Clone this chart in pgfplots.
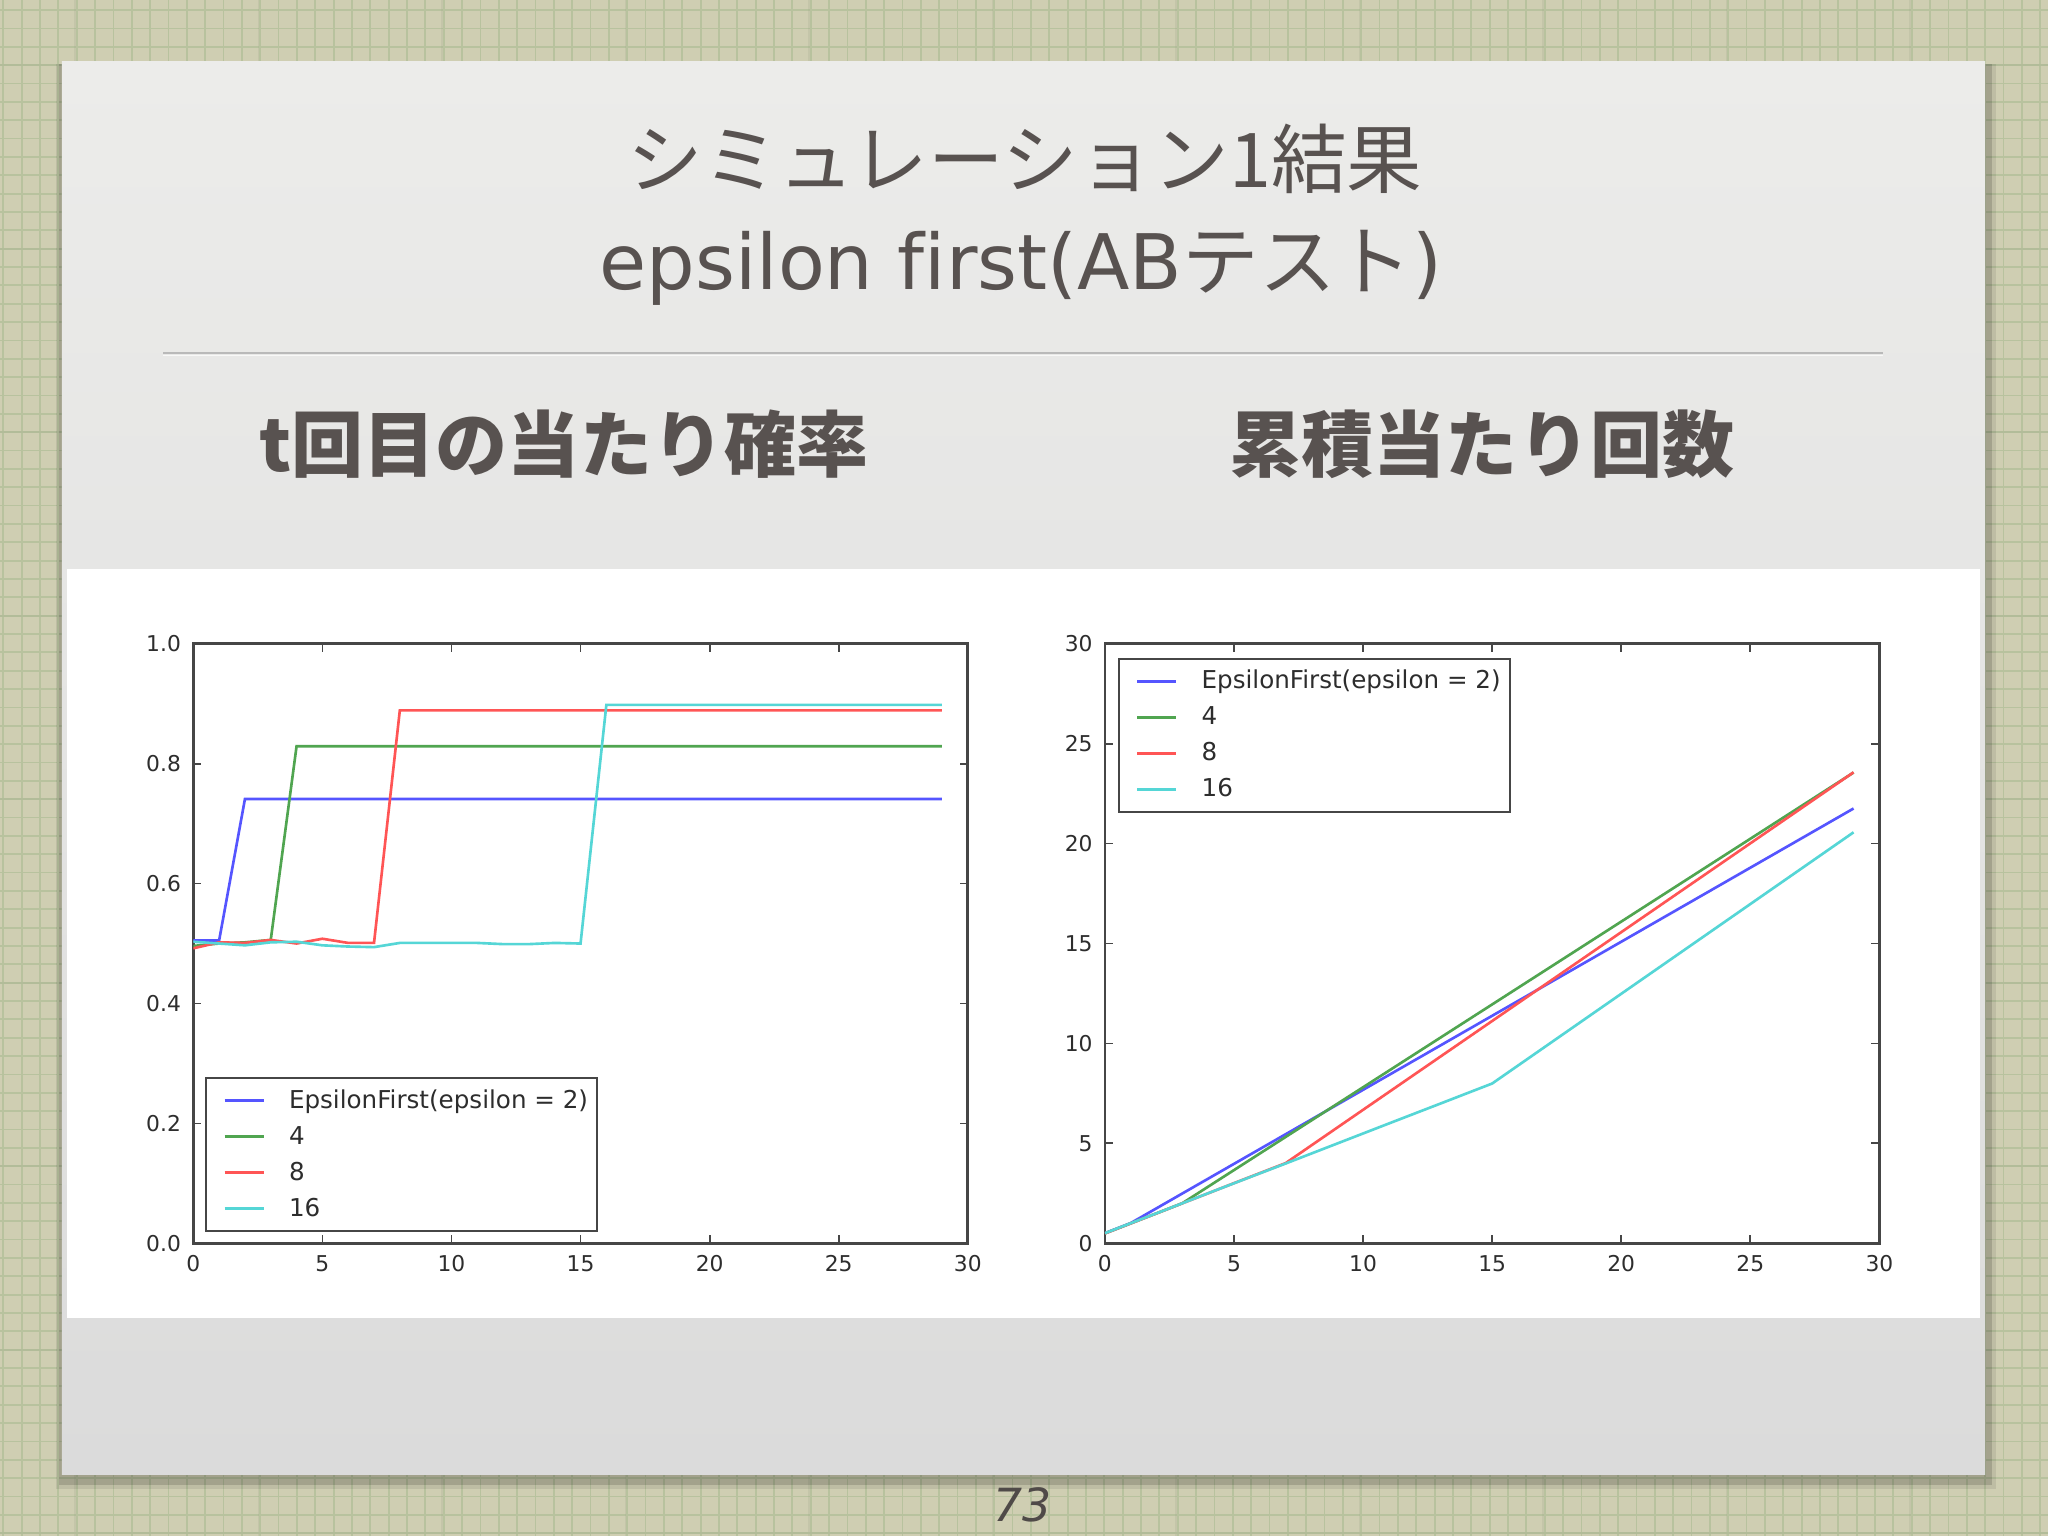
\documentclass[border=0pt]{standalone}
\usepackage{fontspec}
\setmainfont{DejaVu Sans}
\newfontfamily\cjk{Noto Sans CJK JP}
\usepackage{pgfplots}
\pgfplotsset{compat=1.18}

\definecolor{paper}{RGB}{207,206,178}
\definecolor{paperline}{RGB}{184,194,158}
\definecolor{titlegray}{RGB}{88,82,80}
\definecolor{axgray}{RGB}{70,70,70}
\definecolor{txtgray}{RGB}{45,45,45}
\definecolor{mplblue}{RGB}{85,85,255}
\definecolor{mplgreen}{RGB}{80,165,80}
\definecolor{mplred}{RGB}{255,85,85}
\definecolor{mplcyan}{RGB}{85,214,214}

\pgfplotsset{
  mplax/.style={
    width=7.745cm, height=5.995cm, scale only axis,
    xmin=0, xmax=30, xtick={0,5,...,30},
    axis line style={draw=axgray, line width=0.75pt},
    tick style={draw=axgray, line width=0.5pt},
    major tick length=0.08cm,
    tick label style={font=\fontsize{6.2}{7}\selectfont, text=txtgray},
    /pgf/number format/assume math mode=true,
    every axis plot/.append style={line width=0.75pt},
    legend image code/.code={\path (0cm,0cm); \draw[##1] (0.08cm,0cm) -- (0.47cm,0cm);},
    legend style={draw=axgray, line width=0.6pt, fill=white,
      font=\fontsize{7}{8}\selectfont, text=txtgray,
      inner xsep=0.09cm, inner ysep=0.088cm, row sep=0.086cm,
      nodes={inner sep=0pt, text height=6pt, text depth=1.8pt},
      /tikz/every odd column/.append style={column sep=0.24cm},
      cells={anchor=west}},
  }
}

\begin{document}
\begin{tikzpicture}
\useasboundingbox (0,0) rectangle (20.48,15.36);
% grid paper
\fill[paper] (0,0) rectangle (20.48,15.36);
\draw[paperline, line width=0.018cm, shift={(0.033,0.028)}] (-0.2,-0.2) grid[step=0.1835] (20.6,15.5);
\draw[paperline!85!black, line width=0.018cm, opacity=0.2, shift={(0.75,0.028)}] (-0.95,-0.2) grid[step=1.835] (20.6,15.5);
% slide with shadow
\fill[black, opacity=0.08] (0.56,0.47) rectangle (19.96,14.72);
\fill[black, opacity=0.14] (0.59,0.51) rectangle (19.92,14.72);
\shade[top color={rgb,255:red,236;green,236;blue,234}, bottom color={rgb,255:red,219;green,219;blue,219}]
  (0.62,0.61) rectangle (19.85,14.74);
\fill[white] (0.67,2.18) rectangle (19.80,9.67);
% rule under title
\draw[gray!55, line width=0.028cm] (1.63,11.83) -- (18.83,11.83);
\draw[white, opacity=0.7, line width=0.015cm] (1.63,11.805) -- (18.83,11.805);
% titles
\node[text=titlegray, font=\cjk\fontsize{21.5}{25}\selectfont] at (10.25,13.77) {シミュレーション1結果};
\node[text=titlegray, font=\addfontfeature{Ligatures=NoCommon}\fontsize{21.8}{26}\selectfont] at (10.21,12.68) {epsilon first(AB{\cjk テスト})};
\node[text=titlegray, font=\cjk\bfseries\fontsize{20.5}{24}\selectfont] at (5.64,10.92) {t回目の当たり確率};
\node[text=titlegray, font=\cjk\bfseries\fontsize{20.5}{24}\selectfont] at (14.82,10.92) {累積当たり回数};
% page number
\node[text=titlegray!90!black, font=\itshape\fontsize{13}{15}\selectfont] at (10.23,0.31) {73};

% left chart: probability of a hit at trial t
\begin{axis}[mplax, at={(1.933cm,2.927cm)}, anchor=south west,
  ymin=0, ymax=1, ytick={0,0.2,...,1.0},
  yticklabel style={/pgf/number format/.cd, fixed, fixed zerofill, precision=1},
  legend style={at={(0.0155,0.0183)}, anchor=south west}]
\addplot[mplblue] coordinates {(0,0.505)(1,0.505)(2,0.741)(29,0.741)};
\addplot[mplgreen] coordinates {(0,0.496)(1,0.500)(2,0.502)(3,0.506)(4,0.829)(29,0.829)};
\addplot[mplred] coordinates {(0,0.492)(1,0.502)(2,0.501)(3,0.506)(4,0.500)(5,0.508)(6,0.501)(7,0.501)(8,0.889)(29,0.889)};
\addplot[mplcyan] coordinates {(0,0.503)(1,0.500)(2,0.497)(3,0.502)(4,0.503)(5,0.497)(6,0.495)(7,0.494)(8,0.501)(9,0.501)(10,0.501)(11,0.501)(12,0.499)(13,0.499)(14,0.501)(15,0.500)(16,0.898)(29,0.898)};
\legend{EpsilonFirst(epsilon = 2), 4, 8, 16}
\end{axis}

% right chart: cumulative hits
\begin{axis}[mplax, at={(11.049cm,2.927cm)}, anchor=south west,
  ymin=0, ymax=30, ytick={0,5,...,30},
  legend style={at={(0.0168,0.9766)}, anchor=north west}]
\addplot[mplblue] coordinates {(0,0.505)(1,1.010)(29,21.758)};
\addplot[mplgreen] coordinates {(0,0.496)(1,0.996)(2,1.498)(3,2.004)(29,23.558)};
\addplot[mplred] coordinates {(0,0.492)(1,0.994)(2,1.495)(3,2.001)(4,2.501)(5,3.009)(6,3.510)(7,4.011)(29,23.569)};
\addplot[mplcyan] coordinates {(0,0.503)(1,1.003)(2,1.500)(3,2.002)(4,2.505)(5,3.002)(6,3.497)(7,3.991)(8,4.492)(9,4.993)(10,5.494)(11,5.995)(12,6.494)(13,6.993)(14,7.494)(15,7.994)(29,20.566)};
\legend{EpsilonFirst(epsilon = 2), 4, 8, 16}
\end{axis}
\end{tikzpicture}
\end{document}
